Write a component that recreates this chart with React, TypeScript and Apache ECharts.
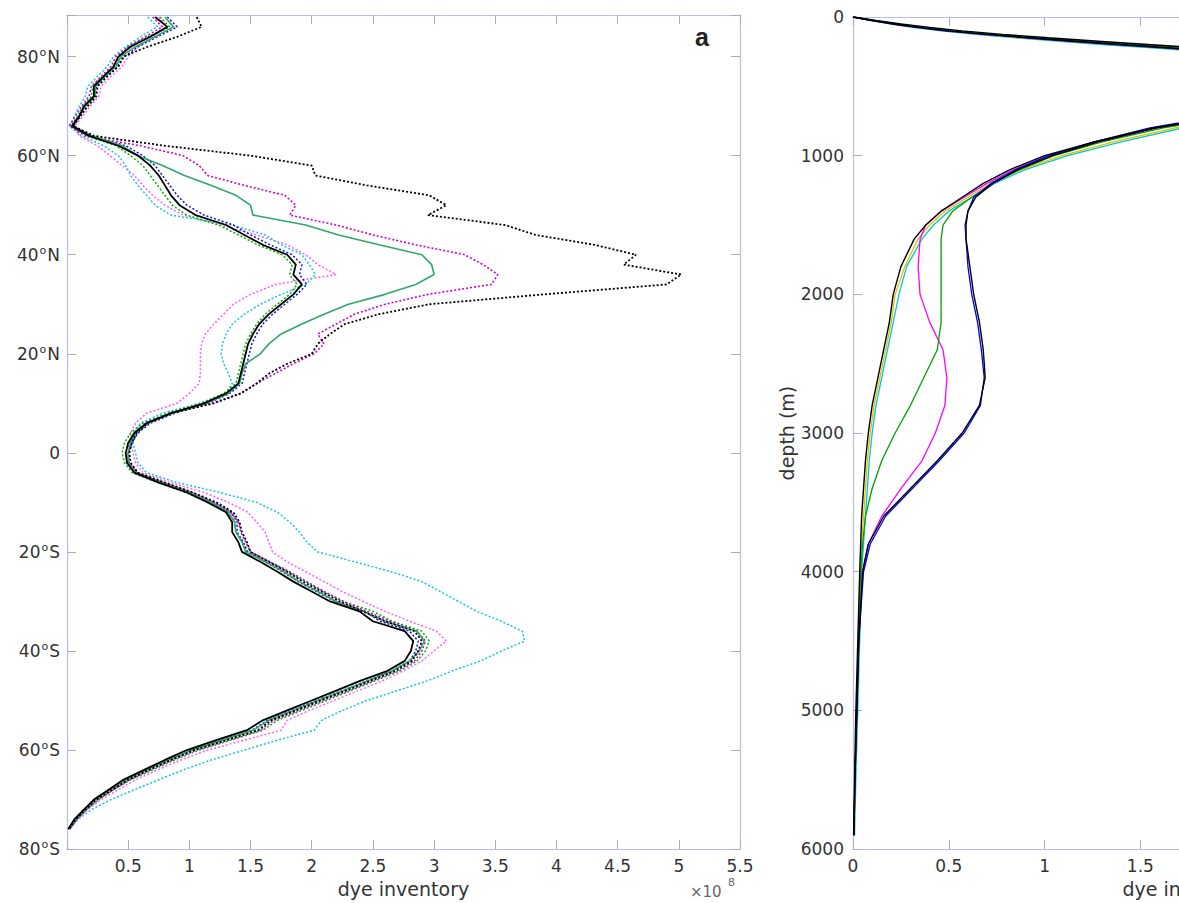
import React, { useEffect, useRef } from 'react';
import * as echarts from 'echarts';

// ---------- panel a: zonal dye inventory vs latitude ----------
const LAT = [88, 86, 84, 82, 80, 78, 76, 74, 72, 70, 68, 66, 64, 62, 60, 58, 56, 54, 52, 50, 48, 46, 44, 42, 40, 38, 36, 34, 32, 30, 28, 26, 24, 22, 20, 18, 16, 14, 12, 10, 8, 6, 4, 2, 0, -2, -4, -6, -8, -10, -12, -14, -16, -18, -20, -22, -24, -26, -28, -30, -32, -34, -36, -38, -40, -42, -44, -46, -48, -50, -52, -54, -56, -58, -60, -62, -64, -66, -68, -70, -72, -74, -76];

const INV_A = [1.06, 1.1, 0.9, 0.66, 0.46, 0.42, 0.33, 0.25, 0.24, 0.17, 0.11, 0.05,
  0.22, 0.8, 1.5, 2.0, 2.03, 2.45, 2.96, 3.1, 2.95, 3.58, 3.83, 4.31, 4.65, 4.55, 5.02, 4.9, 3.9, 2.96, 2.55, 2.27, 2.15, 2.05, 2.0, 1.8, 1.65, 1.55, 1.42, 1.2, 0.85, 0.66, 0.57, 0.53, 0.51,
  0.52, 0.58, 0.8, 1.03, 1.22, 1.36, 1.41, 1.43, 1.47, 1.5, 1.65, 1.8, 1.93, 2.08, 2.23, 2.42, 2.6, 2.84, 2.9, 2.87, 2.82, 2.68, 2.48, 2.28, 2.07, 1.87, 1.67, 1.56, 1.3, 1.04, 0.85, 0.67, 0.5, 0.37, 0.24, 0.15, 0.07, 0.015];

const INV_B = [0.7, 0.78, 0.64, 0.5, 0.4, 0.36, 0.28, 0.2, 0.18, 0.12, 0.07, 0.02,
  0.15, 0.6, 0.95, 1.08, 1.15, 1.45, 1.78, 1.87, 1.82, 2.2, 2.5, 2.85, 3.25, 3.4, 3.52, 3.47, 2.95, 2.6, 2.35, 2.2, 2.05, 2.1, 2.02, 1.85, 1.7, 1.55, 1.42, 1.18, 0.84, 0.64, 0.55, 0.51, 0.5,
  0.51, 0.57, 0.79, 1.02, 1.2, 1.34, 1.4, 1.42, 1.46, 1.5, 1.66, 1.82, 1.96, 2.1, 2.26, 2.45, 2.64, 2.86, 2.93, 2.9, 2.84, 2.7, 2.5, 2.3, 2.09, 1.89, 1.69, 1.58, 1.32, 1.06, 0.86, 0.68, 0.51, 0.38, 0.25, 0.16, 0.08, 0.02];

const INV_C = [0.8, 0.87, 0.72, 0.56, 0.44, 0.4, 0.31, 0.23, 0.23, 0.15, 0.1, 0.05,
  0.2, 0.45, 0.58, 0.78, 0.96, 1.18, 1.38, 1.5, 1.52, 1.95, 2.22, 2.55, 2.9, 2.98, 3.0, 2.85, 2.6, 2.3, 2.1, 1.92, 1.75, 1.65, 1.58, 1.46, 1.43, 1.41, 1.32, 1.14, 0.86, 0.66, 0.56, 0.52, 0.5,
  0.5, 0.56, 0.77, 1.0, 1.18, 1.32, 1.37, 1.38, 1.43, 1.46, 1.62, 1.77, 1.9, 2.05, 2.2, 2.42, 2.6, 2.86, 2.92, 2.88, 2.8, 2.66, 2.46, 2.26, 2.05, 1.85, 1.65, 1.52, 1.27, 1.02, 0.83, 0.65, 0.48, 0.35, 0.23, 0.14, 0.06, 0.01];

const INV_D = [0.72, 0.82, 0.68, 0.52, 0.42, 0.38, 0.3, 0.22, 0.22, 0.14, 0.1, 0.04,
  0.18, 0.42, 0.58, 0.68, 0.75, 0.8, 0.85, 0.92, 1.05, 1.3, 1.45, 1.6, 1.8, 1.87, 1.85, 1.92, 1.85, 1.75, 1.65, 1.57, 1.52, 1.48, 1.46, 1.44, 1.42, 1.4, 1.3, 1.12, 0.85, 0.65, 0.55, 0.5, 0.48,
  0.49, 0.55, 0.75, 0.98, 1.15, 1.3, 1.35, 1.35, 1.4, 1.43, 1.58, 1.72, 1.85, 2.0, 2.15, 2.39, 2.5, 2.76, 2.83, 2.81, 2.76, 2.62, 2.4, 2.2, 2.0, 1.8, 1.6, 1.47, 1.22, 0.98, 0.8, 0.63, 0.46, 0.34, 0.22, 0.14, 0.06, 0.01];

const INV_E = [0.66, 0.74, 0.6, 0.48, 0.38, 0.33, 0.25, 0.17, 0.15, 0.1, 0.06, 0.02,
  0.12, 0.3, 0.42, 0.48, 0.52, 0.58, 0.65, 0.72, 0.85, 1.35, 1.62, 1.75, 1.92, 1.98, 2.03, 1.95, 1.75, 1.58, 1.45, 1.35, 1.3, 1.27, 1.26, 1.28, 1.32, 1.35, 1.3, 1.08, 0.78, 0.6, 0.55, 0.54, 0.56,
  0.58, 0.65, 0.9, 1.25, 1.55, 1.72, 1.82, 1.9, 1.96, 2.05, 2.35, 2.65, 2.9, 3.05, 3.2, 3.35, 3.55, 3.72, 3.74, 3.55, 3.38, 3.15, 2.95, 2.7, 2.45, 2.25, 2.08, 2.02, 1.72, 1.45, 1.18, 0.95, 0.75, 0.55, 0.36, 0.2, 0.09, 0.02];

const INV_F = [0.75, 0.82, 0.7, 0.58, 0.5, 0.45, 0.36, 0.28, 0.26, 0.19, 0.13, 0.06,
  0.1, 0.25, 0.35, 0.45, 0.55, 0.62, 0.7, 0.8, 0.95, 1.25, 1.55, 1.8, 1.95, 2.05, 2.2, 1.7, 1.5, 1.36, 1.28, 1.2, 1.13, 1.1, 1.09, 1.09, 1.09, 1.08, 1.0, 0.9, 0.65, 0.56, 0.52, 0.52, 0.54,
  0.56, 0.62, 0.85, 1.12, 1.32, 1.48, 1.55, 1.62, 1.65, 1.68, 1.8, 1.95, 2.1, 2.25, 2.42, 2.6, 2.8, 3.02, 3.1, 3.0, 2.9, 2.75, 2.58, 2.38, 2.18, 1.98, 1.8, 1.75, 1.45, 1.15, 0.93, 0.74, 0.56, 0.42, 0.28, 0.17, 0.08, 0.02];

const INV_G = [0.82, 0.9, 0.74, 0.58, 0.47, 0.41, 0.32, 0.24, 0.23, 0.16, 0.11, 0.05,
  0.2, 0.48, 0.62, 0.72, 0.78, 0.84, 0.9, 0.98, 1.12, 1.36, 1.5, 1.66, 1.84, 1.92, 1.9, 1.96, 1.88, 1.78, 1.68, 1.6, 1.55, 1.51, 1.49, 1.47, 1.45, 1.43, 1.33, 1.15, 0.88, 0.68, 0.58, 0.53, 0.5,
  0.5, 0.57, 0.78, 1.01, 1.19, 1.34, 1.39, 1.39, 1.44, 1.47, 1.62, 1.76, 1.89, 2.04, 2.19, 2.43, 2.56, 2.8, 2.87, 2.85, 2.8, 2.66, 2.45, 2.25, 2.04, 1.84, 1.64, 1.51, 1.26, 1.02, 0.83, 0.66, 0.49, 0.36, 0.23, 0.15, 0.07, 0.01];

const INV_H = [0.76, 0.84, 0.66, 0.5, 0.44, 0.39, 0.29, 0.21, 0.2, 0.13, 0.09, 0.03,
  0.16, 0.4, 0.52, 0.62, 0.68, 0.74, 0.8, 0.86, 0.98, 1.24, 1.4, 1.56, 1.76, 1.84, 1.82, 1.88, 1.82, 1.72, 1.62, 1.55, 1.5, 1.46, 1.44, 1.42, 1.4, 1.38, 1.28, 1.1, 0.82, 0.62, 0.52, 0.47, 0.45,
  0.47, 0.53, 0.74, 0.97, 1.16, 1.31, 1.37, 1.38, 1.44, 1.48, 1.65, 1.8, 1.95, 2.1, 2.26, 2.5, 2.66, 2.9, 2.96, 2.93, 2.86, 2.72, 2.52, 2.32, 2.12, 1.92, 1.72, 1.6, 1.34, 1.08, 0.88, 0.7, 0.52, 0.38, 0.26, 0.16, 0.08, 0.02];

// ---------- panel b: dye inventory vs depth ----------
const DEPTH = [0, 25, 50, 75, 100, 125, 150, 175, 200, 225, 250, 300, 400, 500, 600, 700, 750, 800, 900, 1000, 1100, 1200, 1300, 1400, 1500, 1600, 1800, 2000, 2200, 2400, 2600, 2800, 3000, 3200, 3400, 3600, 3800, 4000, 4500, 5000, 5500, 5900];

const PROF_1 = [0, 0.1, 0.21, 0.34, 0.5, 0.7, 0.92, 1.16, 1.42, 1.68, 1.95, 2.4, 2.9, 2.85, 2.5, 2.05, 1.8, 1.58, 1.28, 1.04, 0.86, 0.73, 0.64,
  0.6, 0.59, 0.59, 0.61, 0.63, 0.66, 0.68, 0.69, 0.66, 0.57, 0.44, 0.3, 0.16, 0.08, 0.05, 0.03, 0.02, 0.01, 0.005];
const PROF_2 = [0, 0.09, 0.2, 0.33, 0.48, 0.68, 0.9, 1.13, 1.38, 1.64, 1.9, 2.35, 2.85, 2.8, 2.45, 2.0, 1.76, 1.55, 1.26, 1.02, 0.85, 0.72, 0.63,
  0.6, 0.585, 0.59, 0.6, 0.62, 0.65, 0.67, 0.685, 0.665, 0.58, 0.45, 0.31, 0.17, 0.09, 0.055, 0.03, 0.02, 0.01, 0.005];
const PROF_3 = [0, 0.11, 0.23, 0.37, 0.53, 0.74, 0.97, 1.22, 1.5, 1.78, 2.05, 2.5, 2.95, 2.9, 2.55, 2.1, 1.84, 1.62, 1.3, 1.05, 0.87, 0.73, 0.62,
  0.52, 0.47, 0.46, 0.46, 0.46, 0.46, 0.44, 0.37, 0.3, 0.22, 0.15, 0.1, 0.065, 0.05, 0.04, 0.03, 0.02, 0.01, 0.005];
const PROF_4 = [0, 0.1, 0.22, 0.35, 0.51, 0.71, 0.93, 1.18, 1.45, 1.72, 1.98, 2.45, 2.9, 2.85, 2.5, 2.02, 1.78, 1.56, 1.26, 1.02, 0.84, 0.7, 0.58,
  0.46, 0.38, 0.35, 0.34, 0.35, 0.4, 0.47, 0.49, 0.48, 0.43, 0.36, 0.25, 0.15, 0.08, 0.05, 0.03, 0.02, 0.01, 0.005];
const PROF_5 = [0, 0.12, 0.25, 0.4, 0.57, 0.78, 1.02, 1.28, 1.56, 1.85, 2.1, 2.55, 3.0, 2.95, 2.55, 2.05, 1.8, 1.57, 1.26, 1.0, 0.82, 0.68, 0.57,
  0.46, 0.38, 0.32, 0.25, 0.21, 0.19, 0.16, 0.13, 0.1, 0.08, 0.065, 0.055, 0.045, 0.04, 0.035, 0.025, 0.015, 0.008, 0.003];
const PROF_6 = [0, 0.09, 0.19, 0.31, 0.46, 0.64, 0.85, 1.08, 1.32, 1.58, 1.85, 2.3, 2.8, 2.85, 2.6, 2.2, 1.95, 1.72, 1.4, 1.12, 0.9, 0.74, 0.62,
  0.5, 0.42, 0.36, 0.28, 0.24, 0.21, 0.18, 0.15, 0.12, 0.1, 0.085, 0.075, 0.065, 0.055, 0.045, 0.035, 0.025, 0.015, 0.008];
const PROF_7 = [0, 0.1, 0.2, 0.33, 0.48, 0.67, 0.88, 1.12, 1.38, 1.64, 1.9, 2.36, 2.85, 2.9, 2.6, 2.15, 1.9, 1.68, 1.36, 1.09, 0.88, 0.72, 0.6,
  0.48, 0.4, 0.34, 0.27, 0.22, 0.2, 0.17, 0.14, 0.11, 0.09, 0.075, 0.065, 0.055, 0.045, 0.04, 0.03, 0.02, 0.01, 0.005];

const FONT = 'DejaVu Sans';
const TEXT = '#333333';
const FRAME = '#b8bcee';
const TICK = '#a9acc0';

type Def = { name: string; vals: number[]; color: string; dotted: boolean; width: number };

const LEFT_DEFS: Def[] = [
  { name: 'F', vals: INV_F, color: '#ff5cff', dotted: true, width: 1.5 },
  { name: 'E', vals: INV_E, color: '#10c8dc', dotted: true, width: 1.5 },
  { name: 'H', vals: INV_H, color: '#00b400', dotted: true, width: 1.5 },
  { name: 'G', vals: INV_G, color: '#1010e0', dotted: true, width: 1.5 },
  { name: 'B', vals: INV_B, color: '#d000d0', dotted: true, width: 1.6 },
  { name: 'C', vals: INV_C, color: '#2fa86a', dotted: false, width: 1.6 },
  { name: 'A', vals: INV_A, color: '#000000', dotted: true, width: 1.8 },
  { name: 'D', vals: INV_D, color: '#000000', dotted: false, width: 1.8 },
];

const RIGHT_DEFS: Def[] = [
  { name: 'P6', vals: PROF_6, color: '#00c8d0', dotted: false, width: 1.3 },
  { name: 'P7', vals: PROF_7, color: '#e0c000', dotted: false, width: 1.3 },
  { name: 'P4', vals: PROF_4, color: '#ff00ff', dotted: false, width: 1.3 },
  { name: 'P3', vals: PROF_3, color: '#00a000', dotted: false, width: 1.3 },
  { name: 'P2', vals: PROF_2, color: '#0000ff', dotted: false, width: 1.3 },
  { name: 'P5', vals: PROF_5, color: '#000000', dotted: false, width: 1.4 },
  { name: 'P1', vals: PROF_1, color: '#000000', dotted: false, width: 1.4 },
];

const latLabel = (v: number) => {
  if (Math.abs(v % 20) > 1e-6) return '';
  if (v === 0) return '0';
  return `${Math.abs(v)}{o|o}${v > 0 ? 'N' : 'S'}`;
};

const frameAxis = (extra: any) => ({
  type: 'value',
  axisLine: { show: true, onZero: false, lineStyle: { color: FRAME, width: 1.2 } },
  axisTick: { show: true, inside: true, length: 9, lineStyle: { color: TICK, width: 1 } },
  splitLine: { show: false },
  ...extra,
});

export default function App() {
  const ref = useRef<HTMLDivElement>(null);

  useEffect(() => {
    if (!ref.current) return;
    const chart = echarts.init(ref.current, null, { renderer: 'svg' });

    const labelStyle = { fontFamily: FONT, fontSize: 17, color: TEXT };

    const leftSeries = LEFT_DEFS.map((d) => ({
      name: d.name,
      type: 'line',
      xAxisIndex: 0,
      yAxisIndex: 0,
      showSymbol: false,
      symbol: 'none',
      silent: true,
      data: LAT.map((lat, i) => [d.vals[i], lat]),
      lineStyle: { color: d.color, width: d.width, type: d.dotted ? [2, 2] : 'solid' },
    }));

    const rightSeries = RIGHT_DEFS.map((d) => ({
      name: d.name,
      type: 'line',
      xAxisIndex: 2,
      yAxisIndex: 2,
      showSymbol: false,
      symbol: 'none',
      silent: true,
      data: DEPTH.map((dep, i) => [d.vals[i], dep]),
      lineStyle: { color: d.color, width: d.width, type: d.dotted ? [2, 2] : 'solid' },
    }));

    const option: any = {
      animation: false,
      backgroundColor: '#ffffff',
      grid: [
        { left: 67, top: 15, width: 673, height: 838 },
        { left: 853, top: 17, width: 674, height: 836 },
      ],
      xAxis: [
        frameAxis({
          gridIndex: 0, position: 'bottom', min: 0, max: 5.5, interval: 0.5,
          axisLabel: { ...labelStyle, margin: 8, formatter: (v: number) => (v === 0 ? '' : String(v)) },
          name: 'dye inventory', nameLocation: 'middle', nameGap: 27,
          nameTextStyle: { fontFamily: FONT, fontSize: 19, color: TEXT },
        }),
        frameAxis({ gridIndex: 0, position: 'top', min: 0, max: 5.5, interval: 0.5, axisLabel: { show: false } }),
        frameAxis({
          gridIndex: 1, position: 'bottom', min: 0, max: 3.5, interval: 0.5,
          axisLabel: { ...labelStyle, margin: 8, formatter: (v: number) => String(v) },
          name: 'dye inventory', nameLocation: 'middle', nameGap: 27,
          nameTextStyle: { fontFamily: FONT, fontSize: 19, color: TEXT },
        }),
        frameAxis({ gridIndex: 1, position: 'top', min: 0, max: 3.5, interval: 0.5, axisLabel: { show: false } }),
      ],
      yAxis: [
        frameAxis({
          gridIndex: 0, position: 'left', min: -80, max: 88.4, interval: 20,
          axisLabel: {
            ...labelStyle, margin: 7, lineHeight: 20, formatter: latLabel,
            rich: { o: { fontFamily: FONT, fontSize: 11, color: TEXT, lineHeight: 11, verticalAlign: 'top', padding: [0, 1, 0, 1] } },
          },
        }),
        frameAxis({ gridIndex: 0, position: 'right', min: -80, max: 88.4, interval: 20, axisLabel: { show: false } }),
        frameAxis({
          gridIndex: 1, position: 'left', min: 0, max: 6000, interval: 1000, inverse: true,
          axisLabel: { ...labelStyle, margin: 9, formatter: (v: number) => String(v) },
          name: 'depth (m)', nameLocation: 'middle', nameGap: 50, nameRotate: 90,
          nameTextStyle: { fontFamily: FONT, fontSize: 19, color: TEXT },
        }),
        frameAxis({ gridIndex: 1, position: 'right', min: 0, max: 6000, interval: 1000, inverse: true, axisLabel: { show: false } }),
      ],
      series: [...leftSeries, ...rightSeries],
      graphic: [
        { type: 'text', left: 695, top: 24, style: { text: 'a', font: 'bold 25px "Liberation Sans"', fill: '#222' } },
        { type: 'text', left: 690, top: 884, style: { text: '\u00d710', font: '15px "DejaVu Sans"', fill: '#666' } },
        { type: 'text', left: 728, top: 877, style: { text: '8', font: '11px "DejaVu Sans"', fill: '#666' } },
      ],
    };

    chart.setOption(option);
    return () => chart.dispose();
  }, []);

  return (
    <div style={{ position: 'absolute', left: 0, top: 0, width: 1179, height: 903, overflow: 'hidden', background: '#fff' }}>
      <div ref={ref} style={{ width: 1540, height: 903 }} />
    </div>
  );
}
